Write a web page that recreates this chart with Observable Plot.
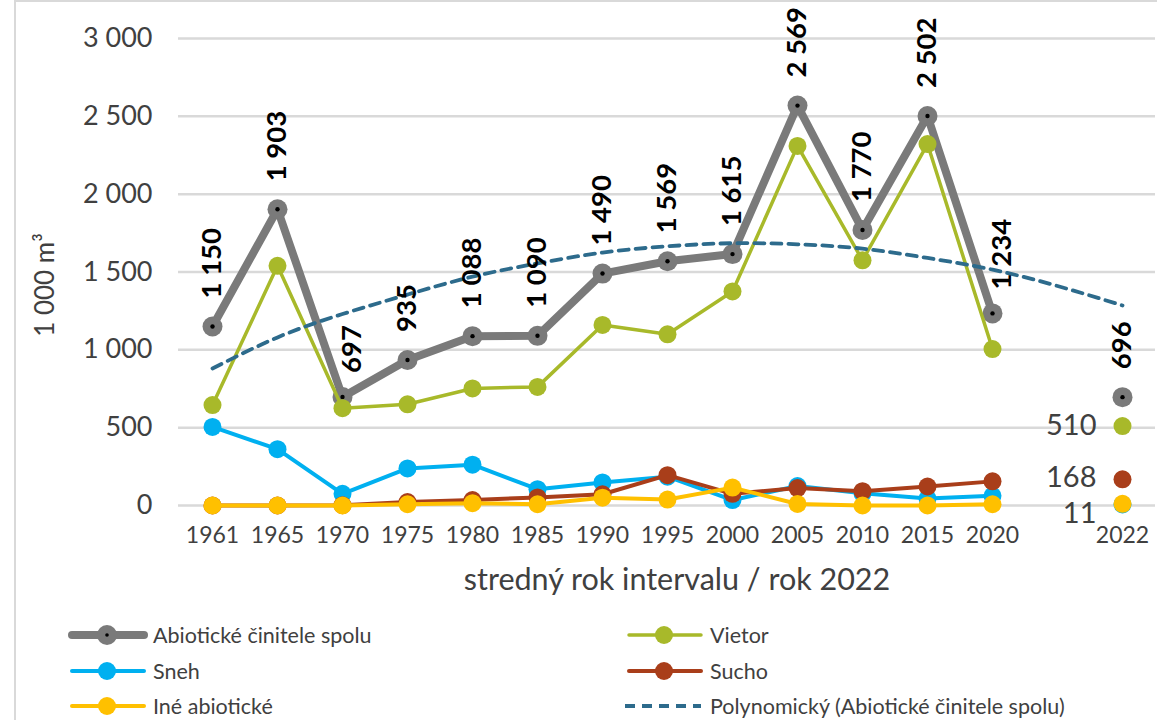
<!DOCTYPE html>
<html><head><meta charset="utf-8">
<script src="https://cdn.jsdelivr.net/npm/d3@7"></script>
<script src="https://cdn.jsdelivr.net/npm/@observablehq/plot@0.6"></script>
<style>
body{margin:0;background:#fff;font-family:Lato,"Liberation Sans",sans-serif;width:1157px;height:720px;overflow:hidden;position:relative}
#frame{position:absolute;left:14px;top:0;width:1300px;height:900px;border:2.5px solid #d9d9d9;box-sizing:border-box;pointer-events:none}
#chart{position:absolute;left:0;top:0}
.leg{position:absolute;display:flex;align-items:center;font-size:21.5px;color:#404040;white-space:nowrap}
.leg svg{margin-right:5px}
</style></head>
<body>
<div id="chart"></div>
<div id="legend"></div>
<div id="frame"></div>
<script>
// categories (empty slot between 2020 and 2022)
const years = ["1961","1965","1970","1975","1980","1985","1990","1995","2000","2005","2010","2015","2020"," ","2022"];
const spolu  = [1150,1903,697,935,1088,1090,1490,1569,1615,2569,1770,2502,1234,null,696];
const vietor = [645,1540,625,650,752,762,1160,1100,1375,2310,1575,2322,1005,null,510];
const sneh   = [505,362,75,238,262,105,148,185,35,125,78,45,62,null,7];
const sucho  = [0,0,2,22,35,52,72,195,75,112,92,122,155,null,168];
const ine    = [0,0,0,8,15,8,50,38,115,10,0,0,8,null,11];
const trend  = [880,1080,1230,1355,1470,1555,1625,1665,1685,1678,1650,1590,1515,1410,1285];
const yTicks = [0,500,1000,1500,2000,2500,3000];
const shiftedLabels = ["1970","2020"];

const names = {
  spolu:"Abiotické činitele spolu", vietor:"Vietor", sneh:"Sneh", sucho:"Sucho",
  ine:"Iné abiotické", trend:"Polynomický (Abiotické činitele spolu)"
};
const colors = {spolu:"#7a7a7a", vietor:"#a8b92a", sneh:"#00b0f0", sucho:"#a93e1a", ine:"#ffc000", trend:"#2d6b8c"};

const rows = years.map((year,i)=>({year, spolu:spolu[i], vietor:vietor[i], sneh:sneh[i], sucho:sucho[i], ine:ine[i], trend:trend[i]}));
const fmt = v => d3.format(",")(v).replace(/,/g," ");
const FONT = 'Lato,"Liberation Sans",sans-serif';

const seriesMarks = [];
for (const [k, w, r] of [["spolu",8,10],["vietor",3.5,9],["sneh",4,9],["sucho",4,9],["ine",4,9]]) {
  seriesMarks.push(Plot.line(rows, {x:"year", y:k, stroke:colors[k], strokeWidth:w, strokeLinejoin:"round"}));
  seriesMarks.push(Plot.dot(rows.filter(d=>d[k]!=null), {x:"year", y:k, r, fill:colors[k]}));
  if (k==="spolu") seriesMarks.push(Plot.dot(rows.filter(d=>d[k]!=null), {x:"year", y:k, r:2.2, fill:"#000"}));
}

const labelStyle = {x:"year", y:"spolu", text:d=>fmt(d.spolu), rotate:-90, textAnchor:"start", dy:-28, fontWeight:"bold", fontSize:27.5, fill:"#000"};
const last = rows.filter(d=>d.year==="2022");
const chart = Plot.plot({
  width:1157, height:600,
  marginLeft:178, marginRight:2, marginTop:38, marginBottom:95,
  style:{fontFamily:FONT, background:"transparent", overflow:"visible"},
  x:{type:"point", domain:years, padding:0.5},
  y:{domain:[0,3000]},
  marks:[
    Plot.ruleY(yTicks, {stroke:"#d9d9d9", strokeWidth:2.5}),
    Plot.axisY(yTicks, {tickSize:0, tickPadding:26, tickFormat:fmt, fontSize:27, fill:"#404040", label:null}),
    Plot.axisX({tickSize:0, tickPadding:21, fontSize:23, fill:"#404040", label:null}),
    ...seriesMarks,
    Plot.line(rows, {x:"year", y:"trend", stroke:colors.trend, strokeWidth:3.8, strokeDasharray:"10,7", curve:"natural"}),
    Plot.text(rows.filter(d=>d.spolu!=null && !shiftedLabels.includes(d.year)), labelStyle),
    Plot.text(rows.filter(d=>shiftedLabels.includes(d.year)), {...labelStyle, dx:10, dy:-24}),
    Plot.text(last, {x:"year", y:"vietor", text:d=>fmt(d.vietor), textAnchor:"end", dx:-26, fontSize:29, fill:"#404040"}),
    Plot.text(last, {x:"year", y:"sucho", text:d=>fmt(d.sucho), textAnchor:"end", dx:-26, dy:-2, fontSize:29, fill:"#404040"}),
    Plot.text(last, {x:"year", y:"ine", text:d=>fmt(d.ine), textAnchor:"end", dx:-26, dy:10, fontSize:29, fill:"#404040"}),
    Plot.text(["1 000 m³"], {frameAnchor:"left", textAnchor:"middle", rotate:-90, dx:-133, dy:13, fontSize:26, fill:"#404040"}),
    Plot.text(["stredný rok intervalu / rok 2022"], {frameAnchor:"bottom", textAnchor:"middle", dx:10, dy:84, fontSize:30.5, fill:"#404040"})
  ]
});
document.getElementById("chart").append(chart);

// legend
const legend = document.getElementById("legend");
const items = [
  ["spolu",68,635,8,10],["vietor",625,635,3.5,9],
  ["sneh",68,671,4,9],["sucho",625,671,4,9],
  ["ine",68,706,4,9],["trend",625,706,3.8,0]
];
for (const [k,x,y,w,r] of items) {
  const div = document.createElement("div");
  div.className = "leg";
  div.style.left = x+"px"; div.style.top = (y-14)+"px"; div.style.height="28px";
  const dash = k==="trend" ? 'stroke-dasharray="10,7"' : 'stroke-linecap="round"';
  const dot = r ? `<circle cx="39" cy="14" r="${r}" fill="${colors[k]}"/>` + (k==="spolu" ? `<circle cx="39" cy="14" r="1.8" fill="#000"/>` : "") : "";
  div.innerHTML = `<svg width="80" height="28"><line x1="${k==="trend"?0:4}" x2="76" y1="14" y2="14" stroke="${colors[k]}" stroke-width="${w}" ${dash}/>${dot}</svg><span>${names[k]}</span>`;
  legend.append(div);
}
</script>
</body></html>
